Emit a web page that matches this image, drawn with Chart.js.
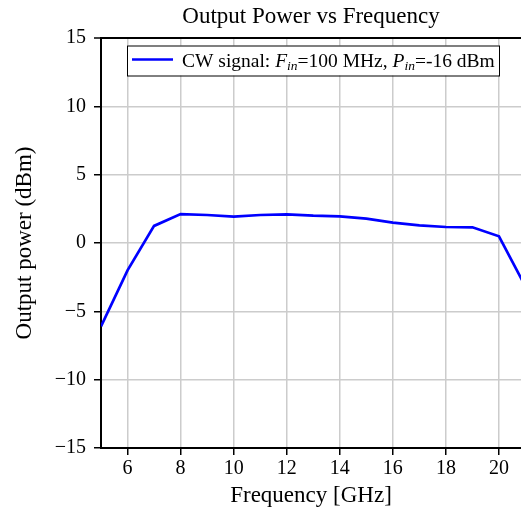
<!DOCTYPE html>
<html>
<head>
<meta charset="utf-8">
<script src="https://cdn.jsdelivr.net/npm/chart.js@4"></script>
<style>
  html, body { margin: 0; padding: 0; background: #fff; overflow: hidden; }
  #wrap { width: 521px; height: 519px; }
</style>
</head>
<body>
<div id="wrap"><canvas id="myChart" width="521" height="519"></canvas></div>
<script>
// frequency in GHz
var freq = [5, 6, 7, 8, 9, 10, 11, 12, 13, 14, 15, 16, 17, 18, 19, 20, 21];
// output power in dBm
var power = [-6.1, -2.0, 1.25, 2.12, 2.05, 1.93, 2.05, 2.1, 2.0, 1.95, 1.78, 1.49, 1.29, 1.17, 1.15, 0.49, -3.2];
var xTicks = [6, 8, 10, 12, 14, 16, 18, 20];
var yTicks = [-15, -10, -5, 0, 5, 10, 15];
var seriesLabel = "CW signal: Fin=100 MHz, Pin=-16 dBm";
// legend text pieces: [text, style]  (n = normal, i = italic, s = italic subscript)
var legendParts = [
  ["CW signal: ", "n"], ["F", "i"], ["in", "s"], ["=100 MHz, ", "n"],
  ["P", "i"], ["in", "s"], ["=-16 dBm", "n"]
];

var serif = "'Liberation Serif', 'DejaVu Serif', serif";

var points = [];
for (var i = 0; i < freq.length; i++) {
  points.push({ x: freq[i], y: power[i] });
}

// draws the boxed legend with italic subscripts
var richLegend = {
  id: "richLegend",
  afterDraw: function (chart) {
    var ctx = chart.ctx;
    var left = 127, top = 45.5, w = 372, h = 30;
    ctx.save();
    ctx.fillStyle = "#fff";
    ctx.fillRect(left, top, w, h);
    ctx.strokeStyle = "#000";
    ctx.lineWidth = 1;
    ctx.strokeRect(left + 0.5, top + 0.5, w, h);
    ctx.strokeStyle = "blue";
    ctx.lineWidth = 2.5;
    ctx.beginPath();
    ctx.moveTo(132, 59.5);
    ctx.lineTo(173, 59.5);
    ctx.stroke();

    var x = 182, base = 66.5;
    ctx.fillStyle = "#000";
    ctx.textBaseline = "alphabetic";
    legendParts.forEach(function (p) {
      var yy = base;
      if (p[1] == "n") ctx.font = "19.5px " + serif;
      else if (p[1] == "i") ctx.font = "italic 19.5px " + serif;
      else { ctx.font = "italic 13.5px " + serif; yy = base + 3; }
      ctx.fillText(p[0], x, yy);
      x += ctx.measureText(p[0]).width;
    });
    ctx.restore();
  },
};

var ctx = document.getElementById("myChart").getContext("2d");
var myLineChart = new Chart(ctx, {
  type: "line",
  data: {
    datasets: [
      {
        label: seriesLabel,
        data: points,
        borderColor: "blue",
        borderWidth: 2.7,
        pointRadius: 0,
        fill: false,
        tension: 0,
      },
    ],
  },
  options: {
    responsive: false,
    animation: false,
    layout: { padding: { left: 0, right: 0, top: 0, bottom: 0 } },
    plugins: {
      legend: { display: false },
      tooltip: { enabled: false },
      title: {
        display: true,
        text: "Output Power vs Frequency",
        color: "#000",
        fullSize: false,
        font: { family: serif, size: 23, weight: "normal" },
        padding: { top: 3, bottom: 7.4 },
      },
    },
    scales: {
      x: {
        type: "linear",
        min: 5,
        max: 20.83,
        afterBuildTicks: function (scale) {
          scale.ticks = xTicks.map(function (v) { return { value: v }; });
        },
        afterFit: function (scale) { scale.height = 71; },
        border: { display: true, color: "#000", width: 2 },
        grid: { color: "#cccccc", lineWidth: 1.5, tickColor: "#000", tickLength: 7, tickWidth: 1.5 },
        ticks: { color: "#000", font: { family: serif, size: 20 }, padding: 2, maxRotation: 0 },
        title: {
          display: true,
          text: "Frequency [GHz]",
          color: "#000",
          font: { family: serif, size: 23 },
          padding: { top: 9, bottom: 9 },
        },
      },
      y: {
        min: -15,
        max: 15,
        afterBuildTicks: function (scale) {
          scale.ticks = yTicks.map(function (v) { return { value: v }; });
        },
        afterFit: function (scale) { scale.width = 101; },
        border: { display: true, color: "#000", width: 2 },
        grid: {
          color: function (c) { return c.tick && c.tick.value == 15 ? "#000" : "#cccccc"; },
          lineWidth: function (c) { return c.tick && c.tick.value == 15 ? 2 : 1.5; },
          tickColor: "#000",
          tickLength: 7,
          tickWidth: 1.5,
        },
        ticks: {
          color: "#000",
          font: { family: serif, size: 20 },
          padding: 8,
          callback: function (v) { return String(v).replace("-", "\u2212"); },
        },
        title: {
          display: true,
          text: "Output power (dBm)",
          color: "#000",
          font: { family: serif, size: 23 },
          padding: { top: 11, bottom: 11 },
        },
      },
    },
  },
  plugins: [richLegend],
});
</script>
</body>
</html>
